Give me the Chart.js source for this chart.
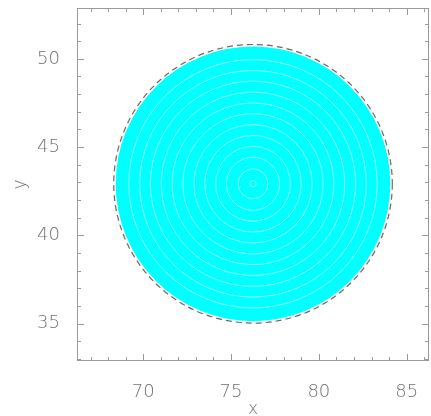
<!DOCTYPE html>
<html>
<head>
<meta charset="utf-8">
<script src="https://cdn.jsdelivr.net/npm/chart.js@4/dist/chart.umd.min.js"></script>
<style>
html,body{margin:0;padding:0;background:#fff;}
#wrap{width:431px;height:416px;}
</style>
</head>
<body>
<div id="wrap"><canvas id="c" width="431" height="416"></canvas></div>
<script>
// data
const center = [76.25, 42.92];
const discRadius = 7.82;
const outlineRadius = 7.93;
const gapRadii = [0.18, 0.85, 1.51, 2.13, 2.75, 3.37, 3.99, 4.6, 5.22, 5.84, 6.45, 7.07];
const xRange = [66.23, 86.27];
const yRange = [32.88, 52.88];
const xTicks = [70, 75, 80, 85];
const yTicks = [35, 40, 45, 50];
const minorStep = 1;

function radiusPx(r){
return function(ctx){
const s = ctx.chart.scales.x;
return Math.abs(s.getPixelForValue(center[0] + r) - s.getPixelForValue(center[0]));
};
}

const pt = {x:center[0], y:center[1]};

// inward ticks on all four sides + frame, dashed outline
const framePlugin = {
id:"frame",
afterDraw(chart){
const c = chart.ctx;
const a = chart.chartArea;
const sx = chart.scales.x, sy = chart.scales.y;
c.save();
c.strokeStyle = "#9a9a9a";
c.lineWidth = 1;
c.strokeRect(a.left + 0.5, a.top + 0.5, a.right - a.left - 1, a.bottom - a.top - 1);
c.beginPath();
for(let v = Math.ceil(xRange[0]); v <= xRange[1]; v += minorStep){
const len = xTicks.includes(v) ? 7 : 4;
const px = Math.round(sx.getPixelForValue(v)) + 0.5;
c.moveTo(px, a.bottom); c.lineTo(px, a.bottom - len);
c.moveTo(px, a.top); c.lineTo(px, a.top + len);
}
for(let v = Math.ceil(yRange[0]); v <= yRange[1]; v += minorStep){
const len = yTicks.includes(v) ? 7 : 4;
const py = Math.round(sy.getPixelForValue(v)) + 0.5;
c.moveTo(a.left, py); c.lineTo(a.left + len, py);
c.moveTo(a.right, py); c.lineTo(a.right - len, py);
}
c.stroke();
c.restore();
},
beforeDatasetDraw(chart, args){
if(args.index === 2){ chart.ctx.setLineDash([6, 4]); }
},
afterDatasetDraw(chart, args){
if(args.index === 2){ chart.ctx.setLineDash([]); }
}
};

const tickFont = {family:"DejaVu Sans", size:18, weight:"300", lineHeight:0.9};
const titleFont = {family:"DejaVu Sans", size:17, weight:"300"};

new Chart(document.getElementById("c"), {
type:"scatter",
data:{
datasets:[
{
label:"disc",
data:[pt],
order:3,
pointRadius:radiusPx(discRadius),
backgroundColor:"#00ffff",
borderWidth:0
},
{
label:"gaps",
data:gapRadii.map(() => pt),
order:2,
pointRadius:(ctx) => radiusPx(gapRadii[ctx.dataIndex])(ctx),
backgroundColor:"rgba(0,0,0,0)",
borderColor:"rgba(255,255,255,0.55)",
borderWidth:1
},
{
label:"outline",
data:[pt],
order:1,
pointRadius:radiusPx(outlineRadius),
backgroundColor:"rgba(0,0,0,0)",
borderColor:"#6a6a6a",
borderWidth:1.2
}
]
},
options:{
responsive:false,
animation:false,
events:[],
layout:{padding:{top:8, right:2, left:0, bottom:0}},
plugins:{legend:{display:false}, tooltip:{enabled:false}},
scales:{
x:{
type:"linear",
min:xRange[0], max:xRange[1],
afterBuildTicks(s){ s.ticks = xTicks.map(v => ({value:v})); },
afterFit(s){ s.height = 55; s.paddingLeft = 0; s.paddingRight = 0; },
grid:{display:false},
border:{display:false},
ticks:{font:tickFont, color:"#707070", padding:15, maxRotation:0},
title:{display:true, text:"x", font:titleFont, color:"#707070", padding:{top:0, bottom:-4}}
},
y:{
type:"linear",
min:yRange[0], max:yRange[1],
afterBuildTicks(s){ s.ticks = yTicks.map(v => ({value:v})); },
afterFit(s){ s.width = 77; s.paddingTop = 0; s.paddingBottom = 0; },
grid:{display:false},
border:{display:false},
ticks:{font:tickFont, color:"#707070", padding:9},
title:{display:true, text:"y", font:titleFont, color:"#707070", padding:{top:10, bottom:0}}
}
}
},
plugins:[framePlugin]
});
</script>
</body>
</html>
